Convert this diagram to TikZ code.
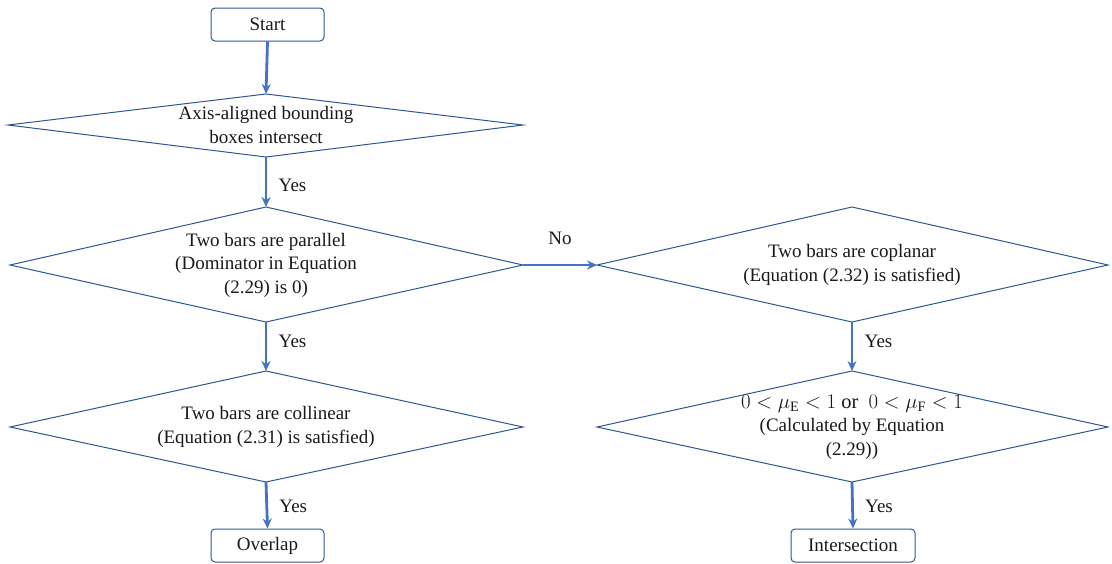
\documentclass[tikz,border=0pt]{standalone}
\usepackage{fontspec}
\setmainfont{Liberation Serif}
\usetikzlibrary{shapes.geometric,arrows.meta}
\definecolor{lineblue}{RGB}{47,85,151}
\definecolor{arrowblue}{RGB}{68,114,196}
\begin{document}
\begin{tikzpicture}[x=1pt,y=-1pt,
  every node/.style={font=\fontsize{19}{23.5}\selectfont, text=black!90},
  term/.style={draw=lineblue, line width=1pt, rounded corners=4pt, minimum height=33pt, inner sep=0pt},
  flow/.style={draw=arrowblue, line width=2.8pt, -{Stealth[length=10pt,width=9pt]}},
  dia/.style={draw=lineblue, line width=1pt},
  lbl/.style={font=\fontsize{19}{23}\selectfont}]
\useasboundingbox (0,0) rectangle (1112,563);
\node[term, minimum width=113pt] (start) at (267.5,24.5) {Start};
\draw[dia] (8,125) coordinate (d1l) -- (266,94) coordinate (d1t) -- (523,125) coordinate (d1r) -- (266,157) coordinate (d1b) -- cycle;
\node[align=center] (d1) at (266,125) {Axis-aligned bounding\\boxes intersect};
\draw[dia] (10,265) coordinate (d2l) -- (266,207) coordinate (d2t) -- (523,265) coordinate (d2r) -- (266,322) coordinate (d2b) -- cycle;
\node[align=center] (d2) at (266,265) {Two bars are parallel\\(Dominator in Equation\\(2.29) is 0)};
\draw[dia] (10,427) coordinate (d3l) -- (266,371) coordinate (d3t) -- (523,427) coordinate (d3r) -- (266,482) coordinate (d3b) -- cycle;
\node[align=center] (d3) at (266,427) {Two bars are collinear\\(Equation (2.31) is satisfied)};
\node[term, minimum width=113pt] (overlap) at (267.5,545.5) {Overlap};
\draw[dia] (597,265) coordinate (r1l) -- (852,207) coordinate (r1t) -- (1108,265) coordinate (r1r) -- (852,322) coordinate (r1b) -- cycle;
\node[align=center] (r1) at (852,265) {Two bars are coplanar\\(Equation (2.32) is satisfied)};
\draw[dia] (597,427) coordinate (r2l) -- (852,371) coordinate (r2t) -- (1108,427) coordinate (r2r) -- (852,482) coordinate (r2b) -- cycle;
\node[align=center] (r2) at (852,427) {{\fontsize{20.5}{23.5}\selectfont$0<\mu_{\mathrm{E}}<1$ or\ \ $0<\mu_{\mathrm{F}}<1$}\\(Calculated by Equation\\(2.29))};
\node[term, minimum width=124pt] (inter) at (853,545.5) {Intersection};
\draw[flow] (start.south) -- (d1t);
\draw[flow] (d1b) -- node[lbl, right, xshift=8pt, yshift=-3pt] {Yes} (d2t);
\draw[flow] (d2b) -- node[lbl, right, xshift=8pt, yshift=5pt] {Yes} (d3t);
\draw[flow] (d3b) -- node[lbl, right, xshift=8pt, yshift=-1pt] {Yes} (overlap.north);
\draw[flow] (d2r) -- node[lbl, above, yshift=16pt] {No} (r1l);
\draw[flow] (r1b) -- node[lbl, right, xshift=8pt, yshift=5pt] {Yes} (r2t);
\draw[flow] (r2b) -- node[lbl, right, xshift=8pt, yshift=-1pt] {Yes} (inter.north);
\end{tikzpicture}
\end{document}
